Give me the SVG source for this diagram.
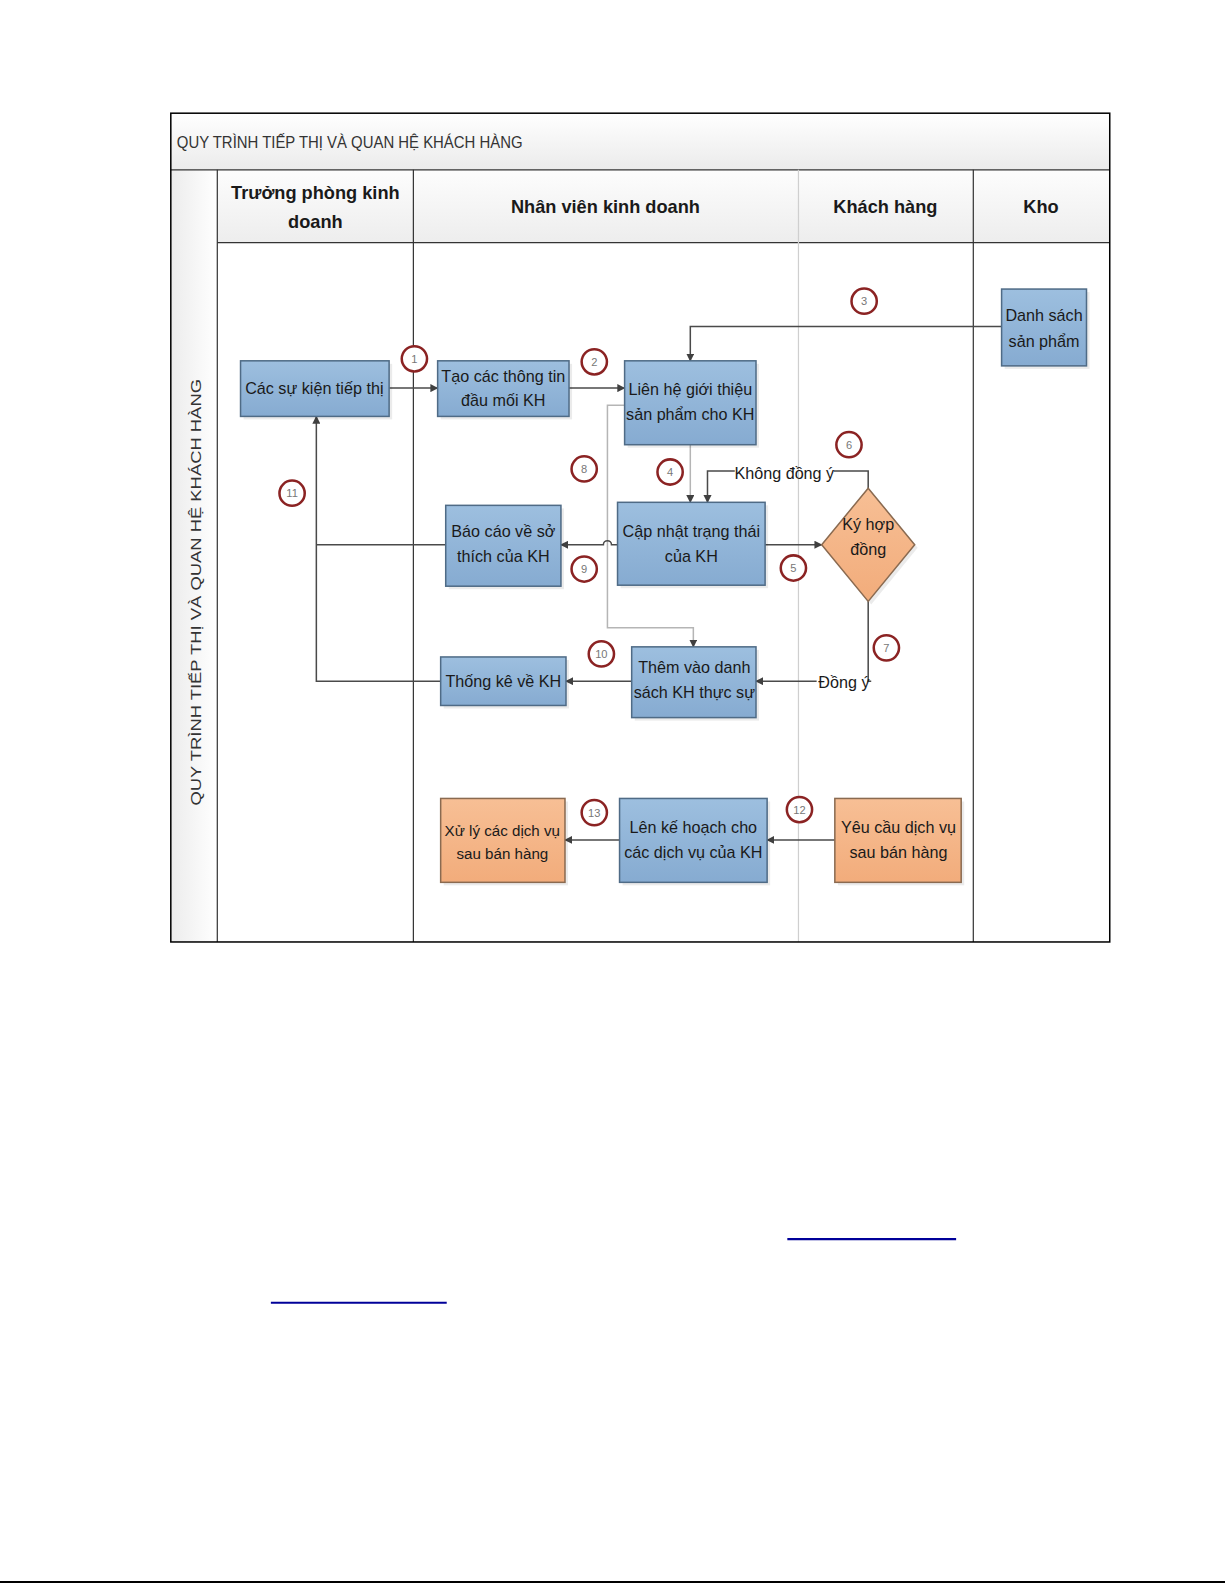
<svg xmlns="http://www.w3.org/2000/svg" width="1225" height="1585" viewBox="0 0 1225 1585">
<defs>
<linearGradient id="gTitle" x1="0" y1="0" x2="0" y2="1"><stop offset="0" stop-color="#ffffff"/><stop offset="1" stop-color="#ebebeb"/></linearGradient>
<linearGradient id="gHead" x1="0" y1="0" x2="0" y2="1"><stop offset="0" stop-color="#fdfdfd"/><stop offset="1" stop-color="#ededed"/></linearGradient>
<linearGradient id="gSide" x1="0" y1="0" x2="1" y2="0"><stop offset="0" stop-color="#ececec"/><stop offset="1" stop-color="#ffffff"/></linearGradient>
<linearGradient id="gBlue" x1="0" y1="0" x2="0" y2="1"><stop offset="0" stop-color="#9dbfdf"/><stop offset="1" stop-color="#86abd1"/></linearGradient>
<linearGradient id="gOrange" x1="0" y1="0" x2="0" y2="1"><stop offset="0" stop-color="#f7bf95"/><stop offset="1" stop-color="#f2ac7b"/></linearGradient>
<marker id="arr" viewBox="0 0 10 10" refX="9" refY="5" markerWidth="8" markerHeight="8" orient="auto" markerUnits="userSpaceOnUse"><path d="M0,0 L10,5 L0,10 z" fill="#404040"/></marker>
</defs>
<style>
.frame{fill:none;stroke:#000;stroke-width:1.5}
.lane{stroke:#333;stroke-width:1.2}
.lanel{stroke:#cfcfcf;stroke-width:1.2}
.blue{fill:url(#gBlue);stroke:#4f6b86;stroke-width:1.5}
.orange{fill:url(#gOrange);stroke:#8a6a50;stroke-width:1.5}
.shadow{fill:#000;opacity:0.08}
.t{font-family:"Liberation Sans Narrow","Liberation Sans",Arial,sans-serif;font-size:16px;fill:#1a1a1a;text-anchor:middle}
.ts{font-size:15px}
.h{font-family:"Liberation Sans",Arial,sans-serif;font-size:18px;font-weight:bold;fill:#1a1a1a;text-anchor:middle}
.title{font-family:"Liberation Sans",Arial,sans-serif;font-size:16px;fill:#333}
.side{font-size:15px}
.num{font-family:"Liberation Sans",Arial,sans-serif;font-size:11px;fill:#777;text-anchor:middle}
.circ{fill:#fff;stroke:#8b2323;stroke-width:2.5}
.c{fill:none;stroke:#4a4a4a;stroke-width:1.5}
.cl{fill:none;stroke:#b5b5b5;stroke-width:1.5}
.lbl{font-family:"Liberation Sans",Arial,sans-serif;font-size:16px;fill:#1a1a1a}
</style>
<rect x="0" y="0" width="1225" height="1585" fill="#fff"/>
<g transform="scale(1.0107)">
<g id="pool">
<rect x="169" y="112" width="929" height="56" fill="url(#gTitle)"/>
<rect x="169" y="168" width="46" height="764" fill="url(#gSide)"/>
<rect x="215" y="168" width="883" height="72" fill="url(#gHead)"/>
<line class="lane" x1="169" y1="168" x2="1098" y2="168" stroke="#aaa"/>
<line class="lane" x1="215" y1="240" x2="1098" y2="240"/>
<line class="lane" x1="215" y1="168" x2="215" y2="932"/>
<line class="lane" x1="409" y1="168" x2="409" y2="932"/>
<line class="lanel" x1="790" y1="168" x2="790" y2="932"/>
<line class="lane" x1="963" y1="168" x2="963" y2="932"/>
<rect class="frame" x="169" y="112" width="929" height="820"/>
<text class="title" x="175" y="146" textLength="342" lengthAdjust="spacingAndGlyphs">QUY TRÌNH TIẾP THỊ VÀ QUAN HỆ KHÁCH HÀNG</text>
<text class="title side" x="0" y="0" transform="translate(199,797) rotate(-90)" textLength="422" lengthAdjust="spacingAndGlyphs">QUY TRÌNH TIẾP THỊ VÀ QUAN HỆ KHÁCH HÀNG</text>
<text class="h" x="312" y="197">Trưởng phòng kinh</text>
<text class="h" x="312" y="226">doanh</text>
<text class="h" x="599" y="211">Nhân viên kinh doanh</text>
<text class="h" x="876" y="211">Khách hàng</text>
<text class="h" x="1030" y="211">Kho</text>
</g>
<g id="connectors">
<line class="c" x1="385" y1="384" x2="433" y2="384" marker-end="url(#arr)"/>
<line class="c" x1="563" y1="384" x2="618" y2="384" marker-end="url(#arr)"/>
<path class="c" d="M991,323 L683,323 L683,357" marker-end="url(#arr)"/>
<line class="cl" x1="683" y1="440" x2="683" y2="497" marker-end="url(#arr)"/>
<path class="c" d="M859,483 L859,466 L825,466"/>
<path class="c" d="M727,466 L700,466 L700,497" marker-end="url(#arr)"/>
<line class="c" x1="757" y1="539" x2="813" y2="539" marker-end="url(#arr)"/>
<path class="c" d="M859,595 L859,674 L862,674"/>
<line class="c" x1="808" y1="674" x2="748" y2="674" marker-end="url(#arr)"/>
<path class="cl" d="M618,401 L601,401 L601,621 L686,621 L686,640" marker-end="url(#arr)"/>
<path class="c" d="M611,539 L605,539 A4,4 0 0 0 597,539 L555,539" marker-end="url(#arr)"/>
<line class="c" x1="625" y1="674" x2="560" y2="674" marker-end="url(#arr)"/>
<path class="c" d="M441,539 L313,539"/>
<path class="c" d="M436,674 L313,674 L313,412" marker-end="url(#arr)"/>
<line class="c" x1="826" y1="831" x2="759" y2="831" marker-end="url(#arr)"/>
<line class="c" x1="613" y1="831" x2="559" y2="831" marker-end="url(#arr)"/>
<text class="lbl" x="776" y="474" text-anchor="middle">Không đồng ý</text>
<text class="lbl" x="835" y="681" text-anchor="middle">Đồng ý</text>
</g>
<g id="steps">
<g id="s1"><circle class="circ" cx="410" cy="355" r="12.5"/><text class="num" x="410" y="359">1</text></g>
<g id="s2"><circle class="circ" cx="588" cy="358" r="12.5"/><text class="num" x="588" y="362">2</text></g>
<g id="s3"><circle class="circ" cx="855" cy="298" r="12.5"/><text class="num" x="855" y="302">3</text></g>
<g id="s4"><circle class="circ" cx="663" cy="467" r="12.5"/><text class="num" x="663" y="471">4</text></g>
<g id="s5"><circle class="circ" cx="785" cy="562" r="12.5"/><text class="num" x="785" y="566">5</text></g>
<g id="s6"><circle class="circ" cx="840" cy="440" r="12.5"/><text class="num" x="840" y="444">6</text></g>
<g id="s7"><circle class="circ" cx="877" cy="641" r="12.5"/><text class="num" x="877" y="645">7</text></g>
<g id="s8"><circle class="circ" cx="578" cy="464" r="12.5"/><text class="num" x="578" y="468">8</text></g>
<g id="s9"><circle class="circ" cx="578" cy="563" r="12.5"/><text class="num" x="578" y="567">9</text></g>
<g id="s10"><circle class="circ" cx="595" cy="647" r="12.5"/><text class="num" x="595" y="651">10</text></g>
<g id="s11"><circle class="circ" cx="289" cy="488" r="12.5"/><text class="num" x="289" y="492">11</text></g>
<g id="s12"><circle class="circ" cx="791" cy="801" r="12.5"/><text class="num" x="791" y="805">12</text></g>
<g id="s13"><circle class="circ" cx="588" cy="804" r="12.5"/><text class="num" x="588" y="808">13</text></g>
</g>
<g id="n-cac-su-kien"><rect class="shadow" x="241" y="360" width="147" height="55"/><rect class="blue" x="238" y="357" width="147" height="55"/><text class="t" x="311" y="390">Các sự kiện tiếp thị</text></g>
<g id="n-tao-thong-tin"><rect class="shadow" x="436" y="360" width="130" height="55"/><rect class="blue" x="433" y="357" width="130" height="55"/><text class="t" x="498" y="378">Tạo các thông tin</text><text class="t" x="498" y="402">đầu mối KH</text></g>
<g id="n-lien-he"><rect class="shadow" x="621" y="360" width="130" height="83"/><rect class="blue" x="618" y="357" width="130" height="83"/><text class="t" x="683" y="391">Liên hệ giới thiệu</text><text class="t" x="683" y="416">sản phẩm cho KH</text></g>
<g id="n-danh-sach"><rect class="shadow" x="994" y="289" width="84" height="76"/><rect class="blue" x="991" y="286" width="84" height="76"/><text class="t" x="1033" y="318">Danh sách</text><text class="t" x="1033" y="343">sản phẩm</text></g>
<g id="n-cap-nhat"><rect class="shadow" x="614" y="500" width="146" height="82"/><rect class="blue" x="611" y="497" width="146" height="82"/><text class="t" x="684" y="531">Cập nhật trạng thái</text><text class="t" x="684" y="556">của KH</text></g>
<g id="n-bao-cao"><rect class="shadow" x="444" y="503" width="114" height="80"/><rect class="blue" x="441" y="500" width="114" height="80"/><text class="t" x="498" y="531">Báo cáo về sở</text><text class="t" x="498" y="556">thích của KH</text></g>
<g id="n-ky-hop-dong"><path class="shadow" d="M862,486 L908,542 L862,598 L816,542 z"/><path class="orange" d="M859,483 L905,539 L859,595 L813,539 z"/><text class="t" x="859" y="524">Ký hợp</text><text class="t" x="859" y="549">đồng</text></g>
<g id="n-them-vao"><rect class="shadow" x="628" y="643" width="123" height="70"/><rect class="blue" x="625" y="640" width="123" height="70"/><text class="t" x="687" y="666">Thêm vào danh</text><text class="t" x="687" y="691">sách KH thực sự</text></g>
<g id="n-thong-ke"><rect class="shadow" x="439" y="653" width="124" height="48"/><rect class="blue" x="436" y="650" width="124" height="48"/><text class="t" x="498" y="680">Thống kê về KH</text></g>
<g id="n-yeu-cau"><rect class="shadow" x="829" y="793" width="125" height="83"/><rect class="orange" x="826" y="790" width="125" height="83"/><text class="t" x="889" y="824">Yêu cầu dịch vụ</text><text class="t" x="889" y="849">sau bán hàng</text></g>
<g id="n-len-ke-hoach"><rect class="shadow" x="616" y="793" width="146" height="83"/><rect class="blue" x="613" y="790" width="146" height="83"/><text class="t" x="686" y="824">Lên kế hoạch cho</text><text class="t" x="686" y="849">các dịch vụ của KH</text></g>
<g id="n-xu-ly"><rect class="shadow" x="439" y="793" width="123" height="83"/><rect class="orange" x="436" y="790" width="123" height="83"/><text class="t ts" x="497" y="827">Xử lý các dịch vụ</text><text class="t ts" x="497" y="850">sau bán hàng</text></g>
<g id="page-links">
<line x1="779" y1="1226" x2="946" y2="1226" stroke="#000099" stroke-width="2"/>
<line x1="268" y1="1289" x2="442" y2="1289" stroke="#000099" stroke-width="2"/>
</g>
</g>
<line x1="0" y1="1582" x2="1225" y2="1582" stroke="#000" stroke-width="2"/>
</svg>
